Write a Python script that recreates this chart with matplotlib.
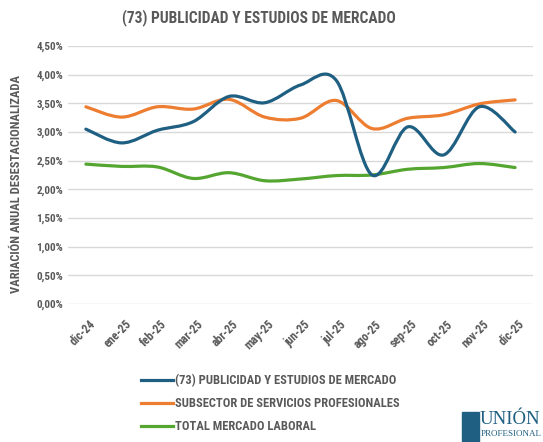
import matplotlib
matplotlib.use('Agg')
import matplotlib.pyplot as plt
import matplotlib.transforms as mtransforms
from matplotlib.path import Path
from matplotlib.patches import PathPatch
from matplotlib.lines import Line2D
from matplotlib.ticker import FuncFormatter, MultipleLocator

plt.rcParams['font.family'] = ['Roboto Condensed', 'PT Sans Narrow', 'Liberation Sans', 'DejaVu Sans']

# meses
meses = ['dic-24', 'ene-25', 'feb-25', 'mar-25', 'abr-25', 'may-25', 'jun-25',
         'jul-25', 'ago-25', 'sep-25', 'oct-25', 'nov-25', 'dic-25']
# variacion anual (%)
publicidad = [3.05, 2.81, 3.03, 3.18, 3.62, 3.51, 3.82, 3.90, 2.25, 3.09, 2.60, 3.44, 3.00]
subsector = [3.44, 3.26, 3.44, 3.40, 3.57, 3.26, 3.24, 3.55, 3.06, 3.24, 3.30, 3.49, 3.56]
total = [2.44, 2.40, 2.39, 2.19, 2.29, 2.15, 2.18, 2.24, 2.25, 2.35, 2.38, 2.45, 2.38]

nombres = ['(73) PUBLICIDAD Y ESTUDIOS DE MERCADO',
           'SUBSECTOR DE SERVICIOS PROFESIONALES',
           'TOTAL MERCADO LABORAL']
colores = ['#1F5F82', '#ED7D31', '#55A631']
gris = '#595959'


def curva_suave(xs, ys):
    # curva tipo Excel (Catmull-Rom como Bezier cubica)
    verts = [(xs[0], ys[0])]
    codes = [Path.MOVETO]
    n = len(xs)
    for i in range(n - 1):
        x0, y0 = (xs[i - 1], ys[i - 1]) if i > 0 else (xs[i], ys[i])
        x1, y1 = xs[i], ys[i]
        x2, y2 = xs[i + 1], ys[i + 1]
        x3, y3 = (xs[i + 2], ys[i + 2]) if i + 2 < n else (x2, y2)
        c1 = (x1 + (x2 - x0) / 6.0, y1 + (y2 - y0) / 6.0)
        c2 = (x2 - (x3 - x1) / 6.0, y2 - (y3 - y1) / 6.0)
        verts += [c1, c2, (x2, y2)]
        codes += [Path.CURVE4] * 3
    return Path(verts, codes)


fig = plt.figure(figsize=(5.43, 4.42), dpi=100)
ax = fig.add_axes([68 / 543, 1 - 304 / 442, 465 / 543, 258 / 442])

x = list(range(len(meses)))
for serie, color in zip([total, subsector, publicidad], [colores[2], colores[1], colores[0]]):
    ax.add_patch(PathPatch(curva_suave(x, serie), facecolor='none', edgecolor=color,
                           lw=2.3, capstyle='round', joinstyle='round', zorder=3))

ax.set_xlim(-0.5, 12.5)
ax.set_ylim(0, 4.5)
ax.yaxis.set_major_locator(MultipleLocator(0.5))
ax.yaxis.set_major_formatter(FuncFormatter(lambda v, p: ('%.2f%%' % v).replace('.', ',')))
ax.set_xticks(x)
ax.set_xticklabels(meses, rotation=45, ha='right', rotation_mode='anchor')
ax.grid(axis='y', color='#D9D9D9', lw=1)
ax.set_axisbelow(True)
for s in ax.spines.values():
    s.set_visible(False)
ax.tick_params(length=0, colors=gris, labelsize=8)
ax.tick_params(axis='x', pad=10, labelsize=8.5)
desplaza = mtransforms.ScaledTranslation(3 / 100, 0, fig.dpi_scale_trans)
for t in ax.get_xticklabels():
    t.set_transform(t.get_transform() + desplaza)
for t in ax.get_xticklabels() + ax.get_yticklabels():
    t.set_fontweight('bold')

ax.set_ylabel('VARIACIÓN ANUAL DESESTACIONALIZADA', color=gris, fontsize=9, fontweight='bold')
ax.yaxis.set_label_coords(-0.097, 0.465)
fig.text(259 / 543, 1 - 18 / 442, '(73) PUBLICIDAD Y ESTUDIOS DE MERCADO', ha='center', va='center',
         color=gris, fontsize=11.2, fontweight='bold')

handles = [Line2D([], [], color=c, lw=2.3) for c in colores]
fig.legend(handles, nombres, loc='upper left', bbox_to_anchor=(130 / 543, 1 - 363 / 442),
           frameon=False, handlelength=2.5, handletextpad=0.2,
           labelspacing=0.78, labelcolor=gris, prop={'weight': 'bold', 'size': 9})

# logo
fig.patches.append(plt.Rectangle((462 / 543, 0), 17 / 543, 30 / 442,
                                 transform=fig.transFigure, color='#1F5F82'))
fig.text(480 / 543, 1 - 419 / 442, 'UNIÓN', color='#1F5F82', fontsize=13.5,
         family='Liberation Serif', ha='left', va='center')
fig.text(481 / 543, 1 - 434 / 442, 'PROFESIONAL', color='#1F5F82', fontsize=6.5,
         family='Liberation Serif', ha='left', va='center')

fig.savefig('out.png', dpi=100)
